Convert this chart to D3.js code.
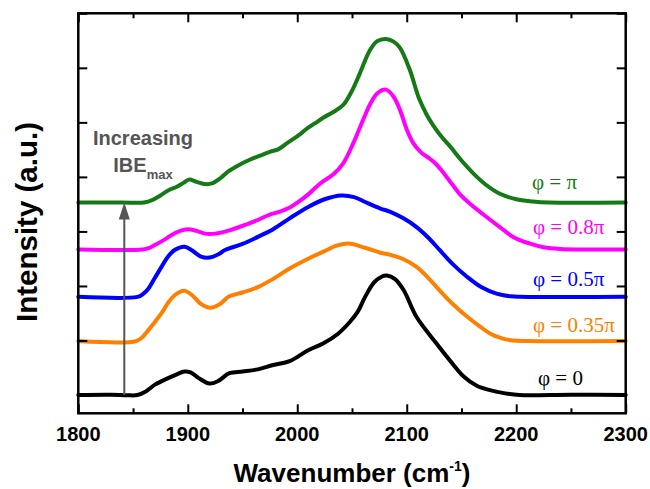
<!DOCTYPE html>
<html><head><meta charset="utf-8">
<script src="https://cdn.jsdelivr.net/npm/d3@7"></script>
<style>body{margin:0;background:#fff;} svg{display:block;}</style>
</head><body>
<svg id="chart" width="650" height="489"></svg>
<script>
// ---------- data ----------
const xMajorTicks = [1800, 1900, 2000, 2100, 2200, 2300];
const xMinorTicks = [1850, 1950, 2050, 2150, 2250];
const yTicks = [0, 1, 2, 3, 4, 5, 6, 7];
const seriesNames = ["φ = 0", "φ = 0.35π", "φ = 0.5π", "φ = 0.8π", "φ = π"];
const seriesColors = ["#000000", "#ff8000", "#0000ff", "#ff00ff", "#157a15"];
const seriesOffsets = [0, 0.99, 1.8, 2.67, 3.53];

const phi0 = [[1800,0],[1830,0.005],[1845,-0.005],[1854,0],[1862,0.07],[1870,0.19],[1882,0.31],[1890,0.38],[1897,0.43],[1903,0.41],[1910,0.31],[1920,0.21],[1928,0.26],[1938,0.40],[1950,0.43],[1964,0.47],[1978,0.55],[1993,0.62],[2010,0.82],[2024,0.95],[2037,1.12],[2048,1.34],[2055,1.52],[2062,1.80],[2070,2.06],[2077,2.17],[2082,2.19],[2089,2.13],[2097,1.93],[2109,1.43],[2127,0.95],[2140,0.62],[2152,0.34],[2164,0.17],[2176,0.09],[2190,0.03],[2203,0.0],[2250,0.005],[2300,0]];
const phi035 = [[1800,0],[1853,0],[1859,0.08],[1864,0.20],[1870,0.35],[1876,0.51],[1882,0.70],[1888,0.84],[1897,0.92],[1904,0.84],[1912,0.68],[1920,0.61],[1928,0.66],[1938,0.82],[1950,0.89],[1964,0.99],[1978,1.14],[1993,1.33],[2010,1.51],[2024,1.64],[2036,1.75],[2047,1.79],[2062,1.71],[2076,1.62],[2085,1.58],[2097,1.50],[2109,1.36],[2120,1.15],[2130,0.93],[2142,0.68],[2155,0.45],[2166,0.28],[2176,0.14],[2187,0.05],[2197,0.01],[2210,0],[2300,0]];
const phi05 = [[1800,0],[1854,0],[1859,0.05],[1864,0.15],[1870,0.35],[1876,0.55],[1882,0.74],[1888,0.86],[1897,0.92],[1904,0.85],[1912,0.74],[1920,0.72],[1928,0.78],[1934,0.86],[1950,0.97],[1964,1.10],[1978,1.24],[1993,1.44],[2010,1.65],[2025,1.79],[2040,1.86],[2052,1.83],[2062,1.74],[2076,1.62],[2085,1.56],[2097,1.44],[2109,1.28],[2120,1.08],[2130,0.86],[2142,0.60],[2155,0.37],[2168,0.18],[2182,0.06],[2195,0.01],[2203,0],[2300,0]];
const phi08 = [[1800,0],[1859,0],[1865,0.03],[1870,0.08],[1878,0.17],[1885,0.26],[1893,0.34],[1900,0.37],[1908,0.34],[1916,0.29],[1925,0.29],[1938,0.35],[1955,0.47],[1964,0.54],[1975,0.64],[1982,0.68],[1994,0.78],[2003,0.90],[2010,1.01],[2021,1.21],[2033,1.38],[2042,1.58],[2051,1.94],[2060,2.37],[2067,2.68],[2073,2.86],[2081,2.93],[2088,2.80],[2094,2.55],[2100,2.20],[2106,1.95],[2113,1.78],[2120,1.68],[2126,1.58],[2133,1.42],[2142,1.18],[2150,0.98],[2160,0.80],[2170,0.64],[2185,0.41],[2198,0.22],[2212,0.11],[2225,0.04],[2240,0.01],[2300,0]];
const phiPi = [[1800,0],[1840,0.0],[1860,0],[1868,0.05],[1875,0.13],[1882,0.22],[1890,0.29],[1896,0.36],[1901,0.42],[1908,0.38],[1915,0.34],[1922,0.35],[1930,0.45],[1937,0.57],[1946,0.68],[1956,0.78],[1966,0.86],[1975,0.93],[1983,0.98],[1990,1.08],[2003,1.26],[2009,1.36],[2016,1.45],[2024,1.56],[2033,1.66],[2042,1.79],[2050,2.05],[2057,2.36],[2066,2.78],[2073,2.96],[2081,3.00],[2088,2.95],[2094,2.83],[2103,2.42],[2111,1.92],[2118,1.62],[2124,1.42],[2132,1.20],[2140,1.02],[2150,0.77],[2161,0.53],[2172,0.33],[2185,0.16],[2200,0.06],[2215,0.02],[2230,0],[2300,0]];
const seriesData = [phi0, phi035, phi05, phi08, phiPi];

const arrowWavenumber = 1842;
const annotationLine1 = "Increasing";
const annotationMain = "IBE";
const annotationSub = "max";
const xTitle = "Wavenumber (cm";
const xTitleSup = "-1";
const yTitle = "Intensity (a.u.)";

// ---------- layout ----------
const svg = d3.select("#chart");
const L = 78.3, R = 625.7, T = 13.3, B = 413.3;
const x = d3.scaleLinear().domain([1800, 2300]).range([L, R]);
const y = d3.scaleLinear().domain([-0.335, 7]).range([B, T]);
const sans = "'Liberation Sans', Arial, sans-serif";
const serif = "'Liberation Serif', 'Times New Roman', serif";

// curves
const line = d3.line().x(d => x(d[0])).y(d => y(d[1])).curve(d3.curveCatmullRom.alpha(0.5));
seriesData.forEach((data, i) => {
  const shifted = data.map(d => [d[0], d[1] + seriesOffsets[i]]);
  svg.append("path").attr("d", line(shifted))
    .attr("fill", "none").attr("stroke", seriesColors[i])
    .attr("stroke-width", 4).attr("stroke-linejoin", "round").attr("stroke-linecap", "round");
});

// axes (inward ticks on all four sides)
const tickStyle = g => { g.select(".domain").remove(); g.selectAll("line").attr("stroke", "#000").attr("stroke-width", 2); };
svg.append("g").attr("transform", `translate(0,${B})`)
  .call(d3.axisTop(x).tickValues(xMajorTicks).tickSize(9).tickFormat("")).call(tickStyle);
svg.append("g").attr("transform", `translate(0,${B})`)
  .call(d3.axisTop(x).tickValues(xMinorTicks).tickSize(5).tickFormat("")).call(tickStyle);
svg.append("g").attr("transform", `translate(0,${T})`)
  .call(d3.axisBottom(x).tickValues(xMajorTicks).tickSize(9).tickFormat("")).call(tickStyle);
svg.append("g").attr("transform", `translate(0,${T})`)
  .call(d3.axisBottom(x).tickValues(xMinorTicks).tickSize(5).tickFormat("")).call(tickStyle);
svg.append("g").attr("transform", `translate(${L},0)`)
  .call(d3.axisRight(y).tickValues(yTicks).tickSize(9).tickFormat("")).call(tickStyle);
svg.append("g").attr("transform", `translate(${R},0)`)
  .call(d3.axisLeft(y).tickValues(yTicks).tickSize(9).tickFormat("")).call(tickStyle);

// frame
svg.append("rect").attr("x", L).attr("y", T).attr("width", R - L).attr("height", B - T)
  .attr("fill", "none").attr("stroke", "#000").attr("stroke-width", 2.5);

// x tick labels
svg.append("g").selectAll("text").data(xMajorTicks).join("text")
  .attr("x", d => x(d)).attr("y", 441).attr("text-anchor", "middle")
  .attr("font-family", sans).attr("font-weight", "bold").attr("font-size", 20)
  .text(d => d);

// axis titles
const xt = svg.append("text").attr("x", (L + R) / 2).attr("y", 482).attr("text-anchor", "middle")
  .attr("font-family", sans).attr("font-weight", "bold").attr("font-size", 26);
xt.append("tspan").text(xTitle);
xt.append("tspan").attr("font-size", 14).attr("dy", -11).text(xTitleSup);
xt.append("tspan").attr("dy", 11).text(")");

svg.append("text").attr("transform", "translate(37,222) rotate(-90)").attr("text-anchor", "middle")
  .attr("font-family", sans).attr("font-weight", "bold").attr("font-size", 29.5).text(yTitle);

// series labels
const labelX = [538, 533, 533, 533, 532];
const labelDy = [0.18, 0.17, 0.2, 0.28, 0.24];
seriesNames.forEach((n, i) => {
  svg.append("text").attr("x", labelX[i]).attr("y", y(seriesOffsets[i] + labelDy[i]))
    .attr("font-family", serif).attr("font-size", 21).attr("fill", seriesColors[i]).text(n);
});

// arrow annotation
const gray = "#555555";
const ax = x(arrowWavenumber), ay0 = y(seriesOffsets[0]), ay1 = y(seriesOffsets[4]);
svg.append("line").attr("x1", ax).attr("x2", ax).attr("y1", ay0).attr("y2", ay1 + 14)
  .attr("stroke", gray).attr("stroke-width", 2);
svg.append("path").attr("d", `M${ax},${ay1} L${ax - 5.5},${ay1 + 17} L${ax + 5.5},${ay1 + 17} Z`).attr("fill", gray);

svg.append("text").attr("x", 143).attr("y", 145).attr("text-anchor", "middle")
  .attr("font-family", sans).attr("font-weight", "bold").attr("font-size", 20).attr("fill", gray)
  .text(annotationLine1);
const t2 = svg.append("text").attr("x", 113.3).attr("y", 172.3)
  .attr("font-family", sans).attr("font-weight", "bold").attr("font-size", 20).attr("fill", gray);
t2.append("tspan").text(annotationMain);
t2.append("tspan").attr("font-size", 13).attr("dy", 7).text(annotationSub);
</script>
</body></html>
